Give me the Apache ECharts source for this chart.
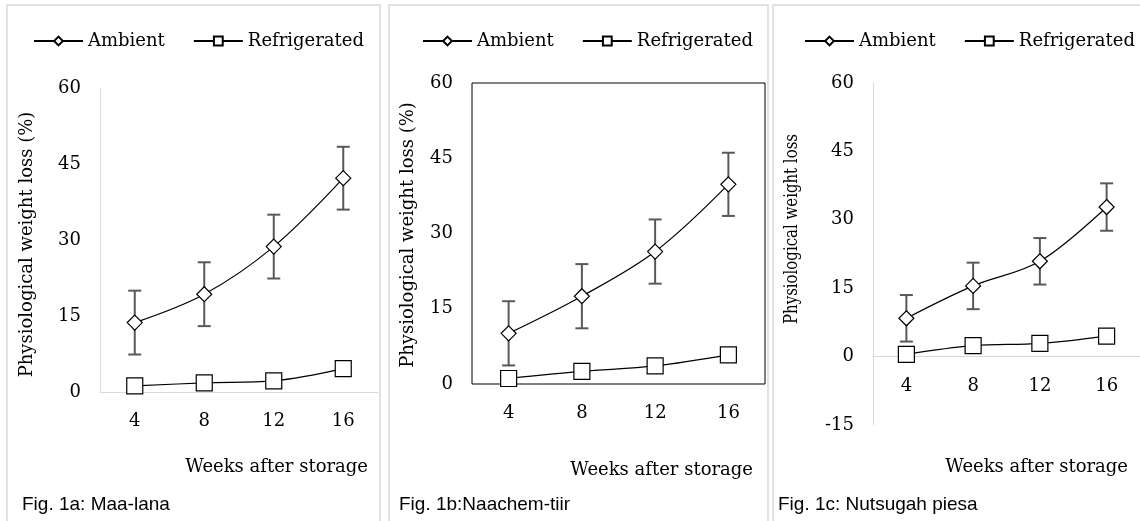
<!DOCTYPE html>
<html><head><meta charset="utf-8">
<script src="https://cdn.jsdelivr.net/npm/echarts@6/dist/echarts.min.js"></script>
<style>html,body{margin:0;padding:0;background:#fff}#c{width:1140px;height:521px}</style>
</head><body><div id="c"></div>
<script>
const categories = ['4', '8', '12', '16'];
// Fig 1a: Maa-lana
const ambientA = [13.7, 19.3, 28.7, 42.2];
const ambientAErr = [6.3, 6.3, 6.3, 6.2];
const refrigA = [1.2, 1.8, 2.2, 4.6];
// Fig 1b: Naachem-tiir
const ambientB = [10.1, 17.5, 26.4, 39.8];
const ambientBErr = [6.4, 6.4, 6.4, 6.3];
const refrigB = [1.1, 2.5, 3.6, 5.8];
// Fig 1c: Nutsugah piesa
const ambientC = [8.4, 15.5, 20.9, 32.8];
const ambientCErr = [5.1, 5.1, 5.1, 5.2];
const refrigC = [0.5, 2.4, 2.9, 4.5];

const captions = ['Fig. 1a: Maa-lana', 'Fig. 1b:Naachem-tiir', 'Fig. 1c: Nutsugah piesa'];
const yTitles = ['Physiological weight loss (%)', 'Physiological weight loss (%)', 'Physiological weight loss'];
const xTitle = 'Weeks after storage';

const SERIF = 'DejaVu Serif';
const SANS = 'Liberation Sans';
const GRAY = '#d9d9d9';

const panels = [
  {amb: ambientA, err: ambientAErr, ref: refrigA, grid: {left: 100, top: 88, width: 278, height: 304}, min: 0, box: false, lm: 20},
  {amb: ambientB, err: ambientBErr, ref: refrigB, grid: {left: 472, top: 83, width: 293, height: 301}, min: 0, box: true, lm: 20},
  {amb: ambientC, err: ambientCErr, ref: refrigC, grid: {left: 873, top: 83, width: 267, height: 342}, min: -15, box: false, lm: -48}
];

const grid = [], xAxis = [], yAxis = [], series = [];
panels.forEach((p, i) => {
  grid.push(Object.assign({show: p.box, borderColor: '#000', borderWidth: 1, backgroundColor: 'transparent'}, p.grid));
  xAxis.push({type: 'category', gridIndex: i, data: categories, boundaryGap: true,
    axisLine: {show: !p.box, onZero: true, lineStyle: {color: GRAY, width: 1}},
    axisTick: {show: false},
    axisLabel: {margin: p.lm, fontFamily: SERIF, fontSize: 18, color: '#000'}});
  yAxis.push({type: 'value', gridIndex: i, min: p.min, max: 60, interval: 15,
    axisLine: {show: !p.box, lineStyle: {color: GRAY, width: 1}},
    axisTick: {show: false}, splitLine: {show: false},
    axisLabel: {margin: 19, fontFamily: SERIF, fontSize: 18, color: '#000'}});
  series.push({type: 'custom', name: 'err' + i, xAxisIndex: i, yAxisIndex: i, z: 1, silent: true,
    data: categories.map((c, k) => [k, p.amb[k], p.err[k]]),
    encode: {x: 0, y: 1},
    renderItem: function (params, api) {
      const x = api.value(0), v = api.value(1), e = api.value(2);
      const hi = api.coord([x, v + e]), lo = api.coord([x, v - e]);
      const w = 6.5, st = {stroke: '#595959', lineWidth: 2};
      return {type: 'group', children: [
        {type: 'line', shape: {x1: hi[0], y1: hi[1], x2: lo[0], y2: lo[1]}, style: st},
        {type: 'line', shape: {x1: hi[0] - w, y1: hi[1], x2: hi[0] + w, y2: hi[1]}, style: st},
        {type: 'line', shape: {x1: lo[0] - w, y1: lo[1], x2: lo[0] + w, y2: lo[1]}, style: st}
      ]};
    }});
  series.push({type: 'line', name: 'Ambient', xAxisIndex: i, yAxisIndex: i, z: 3, data: p.amb,
    smooth: 0.35, symbol: 'diamond', symbolSize: 15, showAllSymbol: true,
    lineStyle: {color: '#000', width: 1.2},
    itemStyle: {color: '#fff', borderColor: '#000', borderWidth: 1.2}});
  series.push({type: 'line', name: 'Refrigerated', xAxisIndex: i, yAxisIndex: i, z: 3, data: p.ref,
    smooth: 0.35, symbol: 'rect', symbolSize: 16, showAllSymbol: true,
    lineStyle: {color: '#000', width: 1.2},
    itemStyle: {color: '#fff', borderColor: '#000', borderWidth: 1.2}});
});

const legendLefts = [33, 422, 804];
const legend = legendLefts.map(l => ({
  left: l, top: 30, padding: 0, itemWidth: 49, itemHeight: 11, itemGap: 28,
  selectedMode: false,
  data: ['Ambient', 'Refrigerated'],
  textStyle: {fontFamily: SERIF, fontSize: 18, color: '#000', lineHeight: 22}
}));

const graphic = [];
// panel frames
[[7, 5, 373, 540], [389, 5, 379, 540], [773, 5, 380, 540]].forEach(r => {
  graphic.push({type: 'rect', z: 0, silent: true, shape: {x: r[0], y: r[1], width: r[2], height: r[3]},
    style: {fill: 'none', stroke: GRAY, lineWidth: 1.5}});
});
// y titles
[[27, 244.5, 1], [408, 235, 1], [792, 229, 0.83]].forEach((t, i) => {
  graphic.push({type: 'text', x: t[0], y: t[1], rotation: Math.PI / 2, scaleX: t[2], silent: true,
    style: {text: yTitles[i], fontFamily: SERIF, fontSize: 18, fill: '#000', align: 'center', verticalAlign: 'middle'}});
});
// x titles
[[368, 467], [753, 470], [1128, 467]].forEach(t => {
  graphic.push({type: 'text', x: t[0], y: t[1], silent: true,
    style: {text: xTitle, fontFamily: SERIF, fontSize: 18, fill: '#000', align: 'right', verticalAlign: 'middle'}});
});
// captions
[[22, 505], [399, 505], [778, 505]].forEach((t, i) => {
  graphic.push({type: 'text', x: t[0], y: t[1], silent: true,
    style: {text: captions[i], fontFamily: SANS, fontSize: 19, fill: '#000', align: 'left', verticalAlign: 'middle'}});
});

const chart = echarts.init(document.getElementById('c'), null, {renderer: 'canvas'});
chart.setOption({animation: false, backgroundColor: '#fff', grid, xAxis, yAxis, series, legend, graphic});
</script></body></html>
